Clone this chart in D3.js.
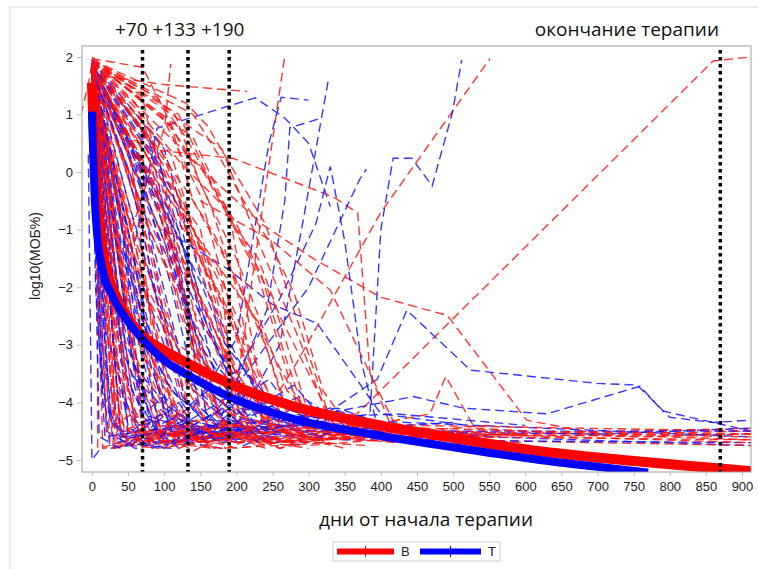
<!DOCTYPE html>
<html>
<head>
<meta charset="utf-8">
<script src="https://cdn.jsdelivr.net/npm/d3@7"></script>
<style>
  body { margin: 0; background: #fff; }
</style>
</head>
<body>
<div id="chart-area"></div>
<script>
// patient trajectories: flat [day, log10, day, log10, ...]
var redLines = [
  [-15,1.0, -4,1.6, 0,1.9],
  [0,1.9, 40,-4.5, 150,-4.6, 250,-4.45, 367,-4.2, 860,1.93, 913,2.0],
  [0,1.7, 50,-2.5, 120,-4.5, 230,-4.4, 284,-3.3, 400,-0.7, 551,1.97],
  [0,1.7, 100,1.52, 215,1.4],
  [0,1.97, 70,1.82, 95,1.2, 130,0.3, 237,-0.92, 306,-1.5, 399,-2.17, 492,-2.49, 602,-4.31, 700,-4.55, 913,-4.5],
  [0,1.8, 60,-1.2, 120,-3.0, 200,-3.75, 267,2.02],
  [0,1.6, 55,-1, 101,0.8, 109,1.88],
  [0,1.8, 50,0.6, 90,0.38, 195,0.24, 334,-0.43, 368,-0.71, 385,-3.5, 420,-4.4, 560,-4.6],
  [150,-0.5, 250,-1.2, 330,-2.05, 385,-3.5, 420,-4.6, 600,-4.55],
  [300,-4.6, 468,-4.2, 490,-3.55, 530,-4.45, 750,-4.6, 913,-4.55],
  [0,1.9, 40,-1.5, 70,-4.5, 150,-4.6, 260,-4.5],
  [0,1.8, 20,-2, 35,-4.7, 120,-4.5, 200,-4.7],
  [0,2.0, 70,1.3, 110,-1, 160,-4.3, 300,-4.6, 420,-4.5],
  [0,1.7, 55,0.2, 90,-3.5, 140,-4.7, 230,-4.6],
  [0,1.95, 100,0.9, 150,-0.4, 210,-3.2, 250,-4.5, 400,-4.6, 913,-4.55],
  [0,1.5, 30,-3, 60,-4.6, 180,-4.8, 330,-4.7],
  [0,1.85, 85,0.5, 140,-1.3, 190,-2.5, 240,-4.4, 350,-4.5],
  [0,1.6, 15,-4.8, 70,-4.7, 133,-4.5],
  [0,1.9, 120,1.0, 170,-0.3, 230,-1.8, 290,-4.3, 500,-4.6, 913,-4.65],
  [0,1.75, 50,-1, 100,-4.2, 190,-4.6, 380,-4.75],
  [0,1.3, 25,-4.7, 90,-4.8, 200,-4.6],
  [0,1.95, 60,1.2, 95,0.1, 133,-2, 180,-4.4, 300,-4.5, 600,-4.7],
  [0,1.8, 35,-0.5, 75,-2.8, 110,-4.6, 170,-4.5],
  [0,1.65, 80,-0.2, 150,-3, 220,-4.5, 420,-4.6, 913,-4.45],
  [0,1.9, 140,0.6, 200,-1.0, 250,-2.2, 300,-4.2, 400,-4.5],
  [0,1.4, 10,-2.5, 30,-4.8, 80,-4.6],
  [0,1.85, 110,0.3, 160,-1.8, 200,-4.4, 270,-4.7, 500,-4.5, 913,-4.6],
  [0,1.7, 45,-2, 70,-4.3, 100,-4.7, 210,-4.5],
  [0,1.95, 75,0.9, 120,0.2, 190,-0.7, 230,-3.5, 280,-4.6, 700,-4.7, 913,-4.75],
  [0,1.8, 65,-1.2, 133,-4, 190,-4.6, 320,-4.4],
  [0,1.55, 40,-3.8, 70,-4.6, 150,-4.3, 250,-4.7],
  [0,1.9, 90,0.6, 130,-0.8, 170,-2.2, 210,-4.5, 350,-4.6, 550,-4.4],
  [0,1.75, 60,-0.3, 100,-2.5, 140,-4.5, 300,-4.8],
  [0,1.6, 28,-1, 50,-4.5, 120,-4.7, 190,-4.55],
  [0,1.95, 130,1.2, 160,0.8, 240,-0.9, 330,-4.3, 450,-4.4, 913,-4.5],
  [0,1.85, 95,-0.5, 160,-3.8, 200,-4.7, 400,-4.6],
  [0,1.7, 70,-1.8, 120,-4.6, 250,-4.6],
  [0,1.5, 40,-4.6, 100,-4.7, 170,-4.8],
  [0,1.9, 105,0.2, 180,-2.3, 260,-4.4, 600,-4.55],
  [0,1.8, 50,0.4, 85,-2, 133,-4.5, 200,-4.4],
  [0,1.65, 35,-4.5, 100,-4.3, 180,-4.6],
  [0,1.9, 70,0.7, 120,-1.7, 160,-3.9, 230,-4.6, 480,-4.7],
  [0,1.95, 180,0.4, 230,-1.2, 290,-3, 330,-4.4, 600,-4.5, 913,-4.55],
  [0,1.75, 40,-1.5, 65,-3.5, 100,-4.75, 150,-4.6],
  [0,1.85, 150,-1, 200,-3.6, 250,-4.5, 370,-4.4],
  [0,1.6, 60,-2.8, 110,-4.5, 200,-4.8, 310,-4.6],
  [0,1.9, 80,0.2, 140,-2.9, 190,-4.2, 280,-4.5, 800,-4.6, 913,-4.65],
  [0,1.7, 20,-0.8, 60,-4.2, 133,-4.65, 260,-4.5],
  [0,1.45, 30,-4.4, 100,-4.6],
  [0,1.8, 120,-0.6, 175,-2.6, 220,-4.1, 300,-4.75, 450,-4.6],
  [0,1.95, 75,1.4, 115,1.0, 150,-0.2, 200,-1.5, 270,-3.8, 350,-4.6],
  [0,1.65, 55,-3.2, 95,-4.6, 160,-4.4],
  [0,1.85, 100,-1.2, 145,-3.4, 190,-4.7, 400,-4.5, 913,-4.7],
  [0,1.75, 45,0.1, 85,-1.5, 133,-3.8, 170,-4.6],
  [0,1.5, 25,-0.5, 32,-4.8, 60,-4.7, 120,-4.55],
  [0,1.2, 7,-0.5, 8,-4.8, 40,-4.7],
  [0,1.9, 60,-0.5, 110,-1.8, 150,-2.6, 190,-3.3, 240,-4.2, 300,-4.6],
  [0,1.8, 90,-0.9, 130,-1.6, 175,-2.9, 215,-3.8, 260,-4.5, 330,-4.7],
  [0,1.7, 70,-0.6, 100,-1.4, 140,-2.0, 180,-3.0, 220,-4.4],
  [0,1.95, 110,0.8, 140,-0.5, 180,-1.4, 220,-2.4, 260,-3.4, 310,-4.5, 380,-4.6],
  [0,1.85, 80,-0.1, 120,-0.9, 170,-1.6, 210,-2.8, 250,-4.0, 290,-4.6],
  [0,1.6, 40,-0.9, 80,-2.1, 120,-3.1, 160,-4.5, 220,-4.3, 300,-4.7],
  [0,1.9, 130,-0.3, 170,-1.1, 205,-2.0, 240,-3.0, 275,-4.3, 350,-4.5],
  [0,1.75, 100,-0.2, 150,-1.2, 190,-1.9, 230,-2.6, 270,-4.2, 330,-4.75],
  [0,1.8, 60,0.9, 100,0.1, 140,-1.0, 180,-2.0, 200,-4.4, 260,-4.6],
  [0,1.65, 30,-0.2, 60,-1.5, 90,-2.9, 120,-4.7, 180,-4.5, 240,-4.8],
  [0,1.9, 150,0.1, 190,-0.8, 230,-1.5, 260,-2.5, 300,-3.5, 340,-4.5],
  [0,1.85, 45,0.8, 90,-0.4, 120,-2.4, 155,-3.5, 190,-4.6, 230,-4.4],
  [0,1.7, 80,-1.0, 120,-2.2, 150,-3.0, 180,-4.0, 230,-4.7, 300,-4.5],
  [0,1.95, 95,1.0, 125,0.5, 165,-0.6, 200,-2.0, 235,-4.3, 280,-4.55],
  [0,1.6, 20,-1.8, 45,-3.5, 70,-4.8, 110,-4.4, 150,-4.7, 210,-4.6],
  [0,1.8, 35,-2.8, 60,-4.3, 90,-4.75, 130,-4.5, 170,-4.8, 220,-4.45],
  [0,1.5, 25,-3.5, 50,-4.7, 85,-4.45, 120,-4.8, 160,-4.6],
  [0,1.75, 30,-4.2, 70,-4.75, 100,-4.5, 140,-4.85, 190,-4.5, 240,-4.75, 300,-4.55],
  [0,1.9, 50,-3.9, 80,-4.65, 110,-4.35, 150,-4.7, 200,-4.4, 260,-4.8, 330,-4.6, 420,-4.7],
  [0,1.7, 20,-4.5, 55,-4.2, 85,-4.8, 115,-4.5, 160,-4.75, 200,-4.55],
  [0,1.85, 65,-2.5, 95,-4.5, 125,-4.1, 155,-4.75, 190,-4.5, 240,-4.65],
  [0,1.6, 45,-4.7, 75,-4.4, 105,-4.8, 150,-4.45, 200,-4.7, 260,-4.5, 350,-4.8],
  [0,1.8, 55,-3.0, 85,-4.0, 115,-4.6, 145,-4.3, 185,-4.8, 230,-4.6, 290,-4.75],
  [0,1.9, 120,-1.5, 160,-2.4, 190,-3.4, 220,-4.6, 260,-4.8, 320,-4.5, 450,-4.7],
  [0,1.95, 140,1.0, 175,0.3, 210,-0.5, 245,-1.2, 280,-2.1, 320,-3.8, 360,-4.5],
  [0,1.8, 75,0.1, 115,-0.6, 150,-1.5, 185,-2.3, 215,-3.1, 245,-4.5],
  [0,1.7, 60,-1.8, 95,-2.6, 130,-3.6, 170,-4.2, 210,-4.7],
  [0,1.9, 90,1.3, 130,0.6, 165,-0.2, 200,-0.9, 235,-1.8, 265,-3.1, 300,-4.4],
  [0,1.65, 50,-2.2, 80,-3.2, 110,-3.9, 140,-4.6, 190,-4.3],
  [0,1.85, 105,-0.8, 140,-2.0, 175,-3.2, 205,-4.2, 250,-4.7, 400,-4.55],
  [0,1.75, 25,0.3, 50,-0.8, 75,-2.0, 100,-3.3, 125,-4.6]
];

var blueLines = [
  [60,-1.2, 90,0.76, 226,1.29, 267,0.94, 300,0.5, 330,-0.6],
  [170,-4.5, 242,-2.4, 267,-0.5, 274,0.77, 313,0.92],
  [200,-4.4, 260,-3, 291,-0.94, 327,1.58],
  [100,-1.0, 190,-1.7, 250,-2.3, 312,-2.63, 400,-4.2, 520,-4.4],
  [40,-4.6, 300,-4.4, 395,-3.6, 436,-2.4, 524,-3.44, 699,-3.67, 755,-3.7, 800,-4.26, 860,-4.35, 913,-4.31],
  [60,-4.5, 280,-4.3, 445,-3.9, 514,-4.1, 630,-4.2, 759,-3.72, 790,-4.15, 913,-4.5],
  [40,-4.5, 300,-4.4, 385,-4.2, 400,-1.0, 417,0.24, 443,0.24, 471,-0.24, 499,1.03, 512,1.95],
  [200,-3.5, 260,-2.2, 310,-0.9, 330,0.1, 350,-1.2, 373,-3.3, 395,-4.4, 520,-4.55],
  [150,-4.5, 219,-3.4, 300,-2.0, 371,-0.12, 380,0.05],
  [130,-4.3, 200,-2.9, 229,-0.7, 245,0.5, 262,1.3, 300,1.25],
  [0,1.9, 30,-1.5, 50,-4.6, 120,-4.7, 230,-4.5],
  [0,1.8, 15,-2.5, 30,-4.7, 90,-4.6, 180,-4.8],
  [0,1.95, 60,0.2, 100,-2.5, 140,-4.5, 250,-4.6],
  [0,1.7, 40,-0.8, 70,-4.2, 140,-4.5, 300,-4.7],
  [0,1.9, 80,0.5, 120,-1.8, 160,-4.3, 260,-4.4, 550,-4.6, 913,-4.75],
  [0,1.6, 20,-4.5, 60,-4.8, 133,-4.6],
  [0,1.85, 50,-1, 90,-3.7, 130,-4.6, 210,-4.4],
  [0,1.5, 10,-3, 25,-4.8, 80,-4.7, 190,-4.6],
  [0,1.9, 70,-0.1, 110,-2, 150,-4.1, 190,-4.5, 340,-4.3, 913,-4.6],
  [0,1.75, 35,-2.5, 60,-4.4, 100,-4.2, 160,-4.7],
  [0,1.95, 100,0.4, 150,-1.8, 200,-3.2, 250,-4.3, 420,-4.2, 600,-4.4],
  [0,1.65, 45,-3, 80,-4.8, 150,-4.6, 280,-4.7],
  [0,1.8, 25,-1, 55,-3.8, 90,-4.5, 133,-4.3, 230,-4.6],
  [0,1.4, 5,-2, 18,-4.6, 70,-4.5],
  [0,1.9, 90,-0.5, 140,-3.0, 190,-4.0, 240,-4.6, 400,-4.5],
  [0,1.7, 30,0, 65,-3, 100,-4.7, 200,-4.5],
  [0,1.85, 120,-1, 170,-3.5, 220,-4.3, 300,-4.5, 700,-4.55, 913,-4.45],
  [0,1.55, 40,-4.6, 110,-4.5, 190,-4.7],
  [0,1.95, 65,0.8, 90,0.4, 130,-2.2, 175,-4.2, 260,-4.7],
  [0,1.75, 55,-1.9, 95,-4.6, 170,-4.4, 250,-4.6],
  [0,1.8, 75,-0.8, 133,-3.7, 200,-4.5, 350,-4.65, 913,-4.7],
  [0,1.6, 20,-3.5, 45,-4.7, 110,-4.8],
  [0,1.9, 110,-0.3, 160,-2.7, 205,-3.9, 260,-4.2, 330,-4.45],
  [0,1.7, 50,-2.6, 80,-4.3, 133,-4.6, 190,-4.3],
  [0,1.85, 35,-0.2, 70,-2.2, 110,-4.4, 300,-4.5, 500,-4.35],
  [0,1.5, 15,-3.8, 40,-4.65, 100,-4.5],
  [0,1.9, 95,0.1, 150,-2.4, 210,-4.1, 280,-4.4, 460,-4.5, 913,-4.5],
  [-5,0.3, 0,-5.0, 12,-4.8],
  [0,1.75, 60,-3.6, 100,-4.1, 150,-4.55, 240,-4.4],
  [0,1.8, 130,-1.4, 180,-3.3, 230,-4.3, 320,-4.6],
  [0,1.8, 40,-1.2, 80,-3.0, 110,-3.8, 150,-4.2, 190,-3.9, 230,-4.4, 280,-4.1],
  [0,1.9, 50,-0.5, 90,-2.2, 130,-3.4, 170,-3.9, 210,-4.3, 260,-4.0, 320,-4.45],
  [0,1.7, 30,-2.0, 60,-3.4, 100,-4.0, 140,-4.4, 180,-4.1, 230,-4.6],
  [0,1.85, 60,-1.6, 100,-3.0, 140,-3.7, 180,-4.2, 220,-3.8, 260,-4.3, 310,-4.2],
  [0,1.6, 20,-2.8, 50,-4.1, 80,-4.5, 120,-4.2, 160,-4.6, 200,-4.35],
  [0,1.95, 80,-0.3, 120,-1.6, 160,-2.8, 200,-3.6, 240,-4.1, 290,-3.9, 350,-4.4],
  [0,1.75, 45,-2.9, 75,-3.9, 110,-4.3, 145,-4.0, 180,-4.5, 220,-4.2],
  [0,1.8, 35,-3.8, 65,-4.5, 95,-4.2, 125,-4.7, 165,-4.4, 210,-4.75, 260,-4.5],
  [0,1.7, 25,-4.3, 55,-4.75, 85,-4.4, 120,-4.8, 150,-4.5, 200,-4.7],
  [0,1.9, 15,-4.0, 45,-4.6, 75,-4.3, 105,-4.75, 140,-4.45, 180,-4.7, 230,-4.4, 290,-4.65],
  [0,1.85, 70,-2.6, 100,-3.6, 130,-4.1, 160,-3.8, 200,-4.2, 240,-4.0, 280,-4.3, 330,-4.1, 400,-4.4],
  [0,1.6, 40,-3.3, 70,-4.2, 100,-3.9, 140,-4.4, 175,-4.15, 210,-4.55],
  [0,1.95, 100,-1.2, 140,-2.6, 175,-3.4, 210,-3.9, 245,-3.6, 280,-4.2, 330,-4.3],
  [0,1.75, 55,-3.2, 85,-4.4, 120,-4.0, 150,-4.6, 190,-4.2, 230,-4.7],
  [0,1.8, 30,-3.0, 50,-4.4, 80,-4.8, 110,-4.4, 140,-4.7],
  [0,1.9, 120,-2.0, 150,-3.0, 180,-3.6, 210,-3.4, 240,-4.0, 280,-3.7, 320,-4.3],
  [0,1.7, 10,-4.6, 40,-4.8, 70,-4.55, 100,-4.8, 133,-4.6],
  [0,1.85, 25,-1.8, 45,-3.2, 70,-3.9, 95,-4.6, 125,-4.3, 160,-4.7, 200,-4.5],
  [0,1.65, 60,-2.1, 90,-3.1, 120,-3.9, 155,-4.3, 190,-4.05, 240,-4.5, 300,-4.3],
  [0,1.9, 150,-1.9, 185,-3.0, 215,-3.5, 250,-4.0, 290,-4.2, 340,-4.1, 420,-4.45],
  [0,1.8, 45,0.2, 70,-1.0, 95,-2.5, 125,-3.9, 160,-4.4, 200,-4.6],
  [0,1.75, 35,-1.0, 60,-2.4, 85,-3.5, 110,-4.5, 150,-4.2]
];

// fitted curves
var redFit = [0,1.55, 3,0.5, 6,-0.3, 11,-1.06, 20,-1.7, 35,-2.2, 66,-2.8, 100,-3.1, 132,-3.32, 195,-3.7, 274,-4.05, 399,-4.4, 500,-4.62, 620,-4.85, 750,-5.02, 870,-5.15, 913,-5.2];
var blueFit = [0,1.05, 2,0.2, 4,-0.5, 7,-1.06, 15,-1.7, 29,-2.17, 50,-2.6, 71,-2.92, 100,-3.27, 132,-3.52, 195,-3.93, 274,-4.27, 399,-4.58, 500,-4.78, 620,-5.0, 700,-5.12, 770,-5.22];

var markerDays = [70, 133, 190, 870];
var xTicks = d3.range(0, 901, 50);
var yTicks = [-5, -4, -3, -2, -1, 0, 1, 2];
var seriesNames = ["В", "Т"];

var canvasWidth = 758;
var canvasHeight = 569;
var margin = { left: 82, right: 7, top: 46, bottom: 97 };
var width = canvasWidth - margin.left - margin.right;
var height = canvasHeight - margin.top - margin.bottom;

function pairs(flat) {
  var out = [];
  for (var i = 0; i < flat.length; i += 2) out.push([flat[i], flat[i + 1]]);
  return out;
}

var svg = d3.select("#chart-area")
  .append("svg")
    .attr("width", canvasWidth)
    .attr("height", canvasHeight);

// outer frame
svg.append("rect")
  .attr("x", 10).attr("y", 7)
  .attr("width", 800).attr("height", 600)
  .attr("fill", "none")
  .attr("stroke", "#dcdcdc");

var g = svg.append("g")
  .attr("transform", `translate(${margin.left},${margin.top})`);

var x = d3.scaleLinear().domain([-13.8, 912.5]).range([0, width]);
var y = d3.scaleLinear().domain([-5.21, 2.19]).range([height, 0]);

g.append("clipPath").attr("id", "plot-clip")
  .append("rect").attr("width", width).attr("height", height);

var line = d3.line().x(d => x(d[0])).y(d => y(d[1]));
var smooth = d3.line().x(d => x(d[0])).y(d => y(d[1])).curve(d3.curveMonotoneX);

var lines = g.append("g").attr("clip-path", "url(#plot-clip)");

// interleave red and blue so neither colour sits fully on top
var all = [];
var n = Math.max(redLines.length, blueLines.length);
for (var i = 0; i < n; i++) {
  if (i < redLines.length) all.push({ c: "#ff1010", d: redLines[i] });
  if (i < blueLines.length) all.push({ c: "#1414ff", d: blueLines[i] });
}

lines.selectAll("path.traj")
  .data(all)
  .enter()
  .append("path")
    .attr("class", "traj")
    .attr("d", d => line(pairs(d.d)))
    .attr("fill", "none")
    .attr("stroke", d => d.c)
    .attr("stroke-opacity", 0.85)
    .attr("stroke-width", 1.4)
    .attr("stroke-dasharray", "9,5");

// fitted curves
lines.append("path")
  .attr("d", smooth(pairs(redFit)))
  .attr("fill", "none")
  .attr("stroke", "#ff0000")
  .attr("stroke-width", 10);

lines.append("path")
  .attr("d", smooth(pairs(blueFit)))
  .attr("fill", "none")
  .attr("stroke", "#0000ff")
  .attr("stroke-width", 8);

// dotted reference lines
g.selectAll("line.marker")
  .data(markerDays)
  .enter()
  .append("line")
    .attr("class", "marker")
    .attr("x1", d => x(d)).attr("x2", d => x(d))
    .attr("y1", 4).attr("y2", height)
    .attr("stroke", "#000")
    .attr("stroke-width", 3.5)
    .attr("stroke-dasharray", "3.5,3.5");

// plot frame
g.append("rect")
  .attr("width", width).attr("height", height)
  .attr("fill", "none")
  .attr("stroke", "#a0a0a0");

// axes
var xAxisCall = d3.axisBottom(x).tickValues(xTicks).tickSize(4).tickPadding(6);
var xAxis = g.append("g")
  .attr("transform", `translate(0,${height})`)
  .call(xAxisCall);
xAxis.select(".domain").remove();

var yAxisCall = d3.axisLeft(y).tickValues(yTicks).tickSize(5).tickPadding(4);
var yAxis = g.append("g").call(yAxisCall);
yAxis.select(".domain").remove();

g.selectAll(".tick line").attr("stroke", "#bbb");
g.selectAll(".tick text")
  .attr("font-family", "Liberation Sans, Arial, sans-serif")
  .attr("font-size", "13px")
  .attr("fill", "#222");

// labels
svg.append("text")
  .attr("x", 115).attr("y", 36)
  .attr("font-family", "Open Sans, sans-serif")
  .attr("font-size", "19px")
  .attr("fill", "#111")
  .text("+70 +133 +190");

svg.append("text")
  .attr("x", 719).attr("y", 36)
  .attr("text-anchor", "end")
  .attr("font-family", "Open Sans, sans-serif")
  .attr("font-size", "19px")
  .attr("fill", "#111")
  .text("окончание терапии");

svg.append("text")
  .attr("x", 426).attr("y", 526)
  .attr("text-anchor", "middle")
  .attr("font-family", "Open Sans, sans-serif")
  .attr("font-size", "19px")
  .attr("fill", "#111")
  .text("дни от начала терапии");

svg.append("text")
  .attr("transform", "translate(40,256) rotate(-90)")
  .attr("text-anchor", "middle")
  .attr("font-family", "Liberation Sans, Arial, sans-serif")
  .attr("font-size", "14px")
  .attr("fill", "#222")
  .text("log10(МОБ%)");

// legend
var legend = svg.append("g").attr("transform", "translate(333,542)");
legend.append("rect")
  .attr("width", 167).attr("height", 19)
  .attr("fill", "#fff")
  .attr("stroke", "#d0d0d0");

var legendItems = [
  { name: seriesNames[0], color: "#ff0000", x0: 4, x1: 61 },
  { name: seriesNames[1], color: "#0000ff", x0: 87, x1: 148 }
];
legendItems.forEach(d => {
  legend.append("line")
    .attr("x1", d.x0).attr("x2", d.x1)
    .attr("y1", 9.5).attr("y2", 9.5)
    .attr("stroke", d.color)
    .attr("stroke-width", 6);
  legend.append("line")
    .attr("x1", (d.x0 + d.x1) / 2).attr("x2", (d.x0 + d.x1) / 2)
    .attr("y1", 4).attr("y2", 15)
    .attr("stroke", d.color)
    .attr("stroke-width", 1);
  legend.append("text")
    .attr("x", d.x1 + 7).attr("y", 14)
    .attr("font-family", "Liberation Sans, Arial, sans-serif")
    .attr("font-size", "13px")
    .attr("fill", "#222")
    .text(d.name);
});
</script>
</body>
</html>
